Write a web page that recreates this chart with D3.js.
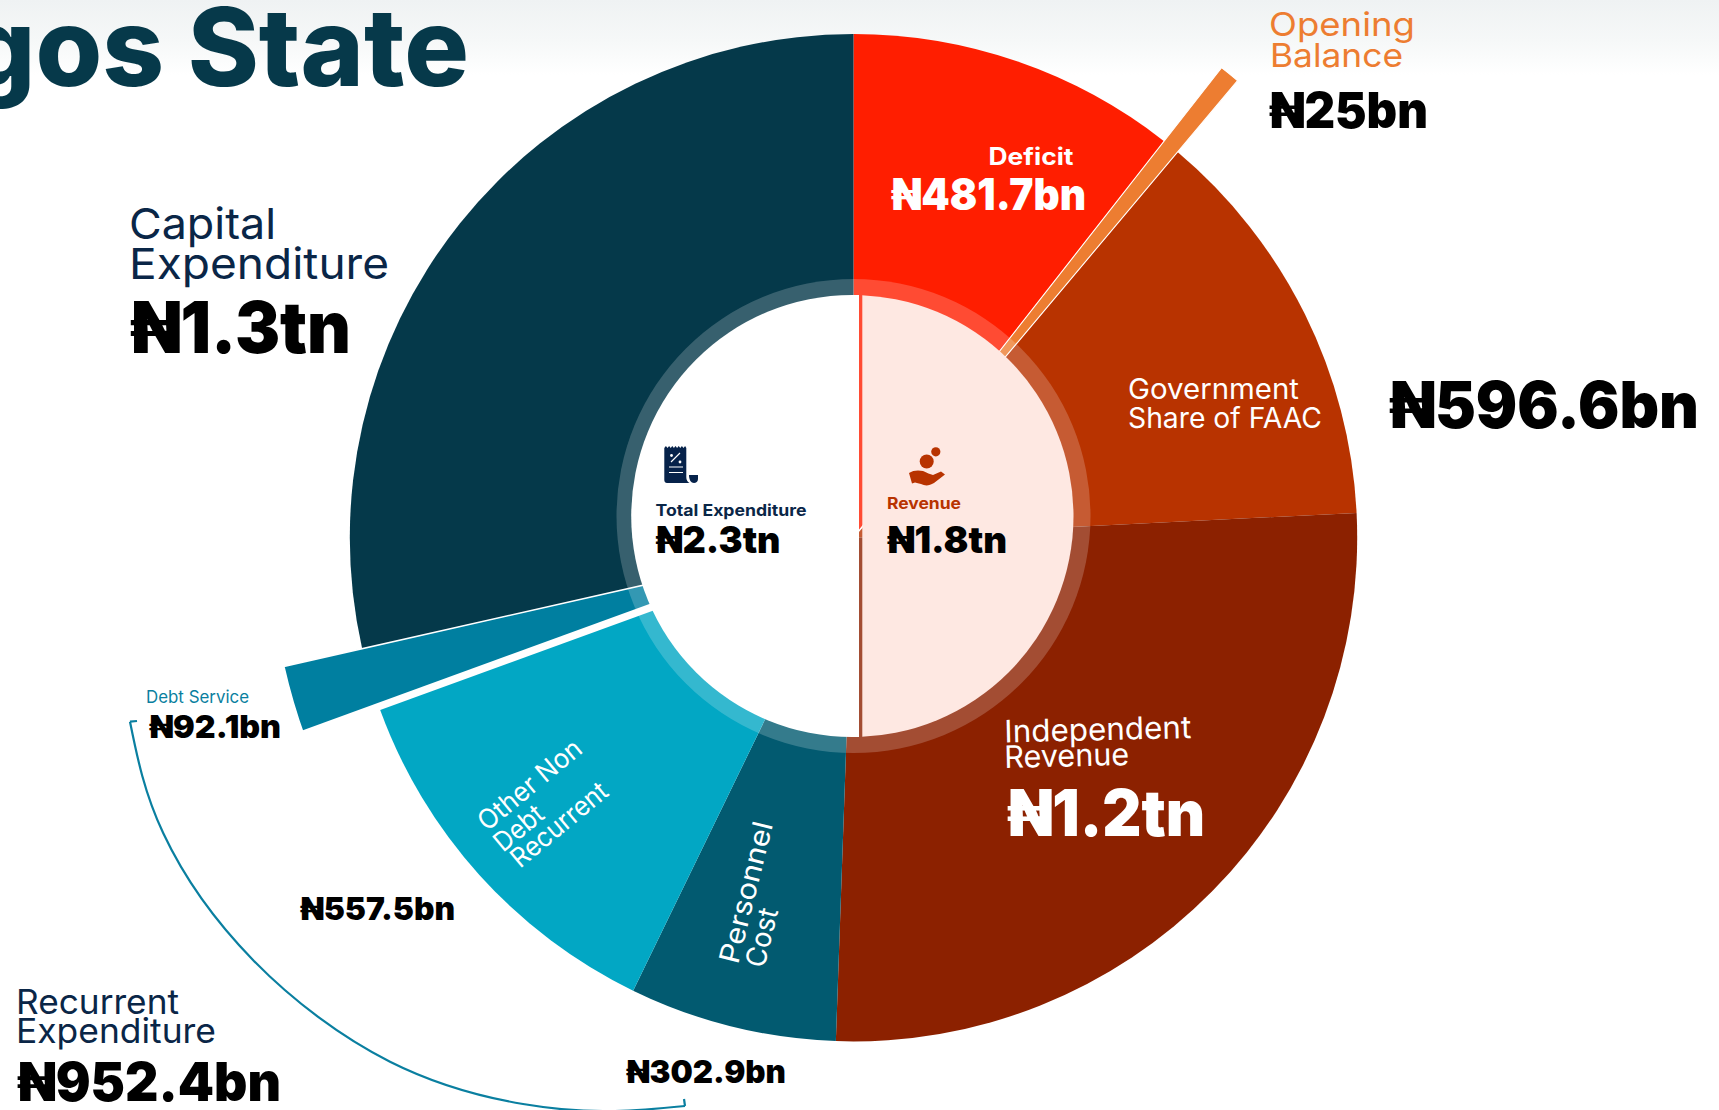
<!DOCTYPE html>
<html>
<head>
<meta charset="utf-8">
<script src="https://cdn.jsdelivr.net/npm/d3@7/dist/d3.min.js"></script>
<style>
html,body{margin:0;padding:0;background:#fff;overflow:hidden}
svg{display:block}
text{font-family:Inter,"Noto Sans",sans-serif}
</style>
</head>
<body>
<svg id="chart" width="1719" height="1110"></svg>
<script>
// ---------- DATA ----------
const categories = ["Deficit","Opening Balance","Government Share of FAAC","Independent Revenue","Personnel Cost","Other Non Debt Recurrent","Debt Service","Capital Expenditure"];
const values = [481.7, 25, 596.6, 1200, 302.9, 557.5, 92.1, 1300];
const valueLabels = ["₦481.7bn","₦25bn","₦596.6bn","₦1.2tn","₦302.9bn","₦557.5bn","₦92.1bn","₦1.3tn"];
const totalLabels = ["Total Expenditure","Revenue","Recurrent Expenditure"];
const totalValues = ["₦2.3tn","₦1.8tn","₦952.4bn"];
const titleText = "Lagos State";

// ---------- STYLE & LAYOUT ----------
const colors = ["#ff1e00","#ed7d31","#b83300","#8c2100","#025a70","#02a7c4","#007fa0","#05394a"];
const radii  = [503.7,597,503.7,503.7,503.7,503.7,584,503.7];
const cx=853.5, cy=537.7, ringX=853.5, ringY=516;
const bracketPath=[[130,721.7],[163.3,833.3],[253,960],[390,1061.7],[523,1104],[615,1111],[685,1106]];

const svg=d3.select("#chart");
const defs=svg.append("defs");
const g=defs.append("linearGradient").attr("id","wash").attr("x1",0).attr("x2",0).attr("y1",0).attr("y2",1);
g.append("stop").attr("offset",0).attr("stop-color","#eff2f3");
g.append("stop").attr("offset",0.55).attr("stop-color","#f6f8f8");
g.append("stop").attr("offset",1).attr("stop-color","#ffffff");
svg.append("rect").attr("width",1719).attr("height",75).attr("fill","url(#wash)");

const pie=d3.pie().sort(null).value(d=>d).startAngle(0).endAngle(2*Math.PI);
const slices=pie(values).map((s,i)=>({...s,i}));
const arc=d3.arc().innerRadius(0).outerRadius(d=>radii[d.i]);
const pieG=svg.append("g").attr("transform",`translate(${cx},${cy})`);
const drawSlices=list=>pieG.selectAll(null).data(list).join("path")
  .attr("d",arc).attr("fill",d=>colors[d.i]);

// base wedges
drawSlices(slices.filter(d=>[0,2,3,4,7].includes(d.i)));
// exploded debt wedge, white gap, other non-debt
drawSlices(slices.filter(d=>d.i===6)).attr("stroke","#fff").attr("stroke-width",1.6);
const otherEdge=slices[5].endAngle;
pieG.append("path")
  .attr("d",d3.lineRadial()([[otherEdge,0],[otherEdge,600]]))
  .attr("stroke","#fff").attr("stroke-width",15).attr("fill","none");
drawSlices(slices.filter(d=>d.i===5));
// opening balance sliver
drawSlices(slices.filter(d=>d.i===1)).attr("stroke","#fff").attr("stroke-width",1.1);

// translucent ring + centre
svg.append("circle").attr("cx",ringX).attr("cy",ringY).attr("r",237).attr("fill","#fff").attr("fill-opacity",0.2);
defs.append("clipPath").attr("id","leftHalf").append("rect").attr("x",0).attr("y",0).attr("width",859).attr("height",1110);
defs.append("clipPath").attr("id","rightHalf").append("rect").attr("x",862.3).attr("y",0).attr("width",800).attr("height",1110);
svg.append("circle").attr("cx",852.2).attr("cy",ringY).attr("r",221).attr("fill","#fff").attr("clip-path","url(#leftHalf)");
svg.append("circle").attr("cx",852.5).attr("cy",ringY).attr("r",221).attr("fill","#fee8e2").attr("clip-path","url(#rightHalf)");

// recurrent bracket
const bGroup=svg.append("g").attr("fill","none").attr("stroke","#0a7fa0").attr("stroke-width",2.2);
bGroup.append("path").attr("d",d3.line().curve(d3.curveNatural)(bracketPath));
bGroup.append("path").attr("d",d3.line()([[137,721],bracketPath[0]]));
bGroup.append("path").attr("d",d3.line()([bracketPath[bracketPath.length-1],[684,1099]]));

// ---------- TEXT ----------
function label(t,x,y,w,size,weight,fill,rot){
  const el=svg.append("text").text(t).attr("x",x).attr("y",y)
    .attr("font-size",size).attr("font-weight",weight).attr("fill",fill)
    .attr("textLength",w).attr("lengthAdjust","spacingAndGlyphs");
  if(rot) el.attr("transform",`rotate(${rot} ${x} ${y})`);
  return el;
}
const navy="#0a2647", black="#000", white="#fff", orange="#ed7d31", teal="#0a7fa0", rust="#b83300";

label(titleText,-158,86,627,108,800,"#06394a");

label("Opening",1269,36,146,33,400,orange);
label("Balance",1270,67,133,33,400,orange);
label(valueLabels[1],1269,127.5,159,50,900,black);

label(categories[0],988.5,165,85,24,700,white);
label(valueLabels[0],891,210,195,44,900,white);

label("Government",1128,399,171,28,400,white);
label("Share of FAAC",1128,427.5,194,28,400,white);
label(valueLabels[2],1389,427.5,310,64,900,black);

label("Independent",1004.5,742.5,187,31,400,white,-1.4);
label("Revenue",1004.5,768,125,31,400,white,-1.4);
label(valueLabels[3],1007,836,198,64,900,white);

label("Capital",129,239,147,43,400,navy);
label("Expenditure",129,279,260,43,400,navy);
label(valueLabels[7],130,353,221,72,900,black);

label(categories[6],146,703,103,17,400,teal);
label(valueLabels[6],149,738,132,32,900,black);
label(valueLabels[5],300,920,155,32,900,black);
label(valueLabels[4],626,1083,160,32,900,black);

label("Recurrent",16,1014,163,34,400,navy);
label("Expenditure",16,1043,200,34,400,navy);
label(totalValues[2],17,1101,264,54,900,black);

label("Other Non",487,832,126,27,400,white,-39.6);
label("Debt",503,853,56,27,400,white,-39.6);
label("Recurrent",520,869,117,27,400,white,-39.6);
label("Personnel",738,965,145,28,400,white,-76);
label("Cost",764,969,60,28,400,white,-76);

label(totalLabels[0],655.5,516,151,16,700,navy);
label(totalValues[0],655.5,552.5,125,37,900,black);
label(totalLabels[1],887,509,74,16,700,rust);
label(totalValues[1],887,552.5,120,37,900,black);

// ---------- ICONS ----------
const rc=svg.append("g");
rc.append("path").attr("fill","#06224a").attr("d",
 "M664.3 448 l1.6-2 1.6 2 1.6-2 1.6 2 1.6-2 1.6 2 1.6-2 1.6 2 1.6-2 1.6 2 1.6-2 1.6 2 1.6-2 1.2 2 V477 c0 3.5 2 6 4 6 H667 c-1.5 0-2.7-1.3-2.7-3 Z");
rc.append("path").attr("fill","#06224a").attr("d","M689 475 H698 v4 c0 2.5-2 4-4 4 c-3 0-5-3-5-8 Z");
rc.append("path").attr("stroke","#fff").attr("fill","none").attr("stroke-width",1.2)
  .attr("d","M669 467 H683 M669 472.5 H683 M671 462 L680 453");
rc.append("circle").attr("cx",671.5).attr("cy",455.5).attr("r",1.4).attr("fill","#fff");
rc.append("circle").attr("cx",680).attr("cy",462).attr("r",1.4).attr("fill","#fff");

const hd=svg.append("g").attr("fill",rust);
hd.append("circle").attr("cx",926.7).attr("cy",461.5).attr("r",7);
hd.append("circle").attr("cx",935.8).attr("cy",451.8).attr("r",4.6);
hd.append("path").attr("d","M909 473 C913 470 919 470 923 471 C927 473 930 474 933 475 L941 471.5 L945 474.5 L934 483 C929 486 925 486 921 484 L915 482.5 L912 483.5 Z");
</script>
</body>
</html>
